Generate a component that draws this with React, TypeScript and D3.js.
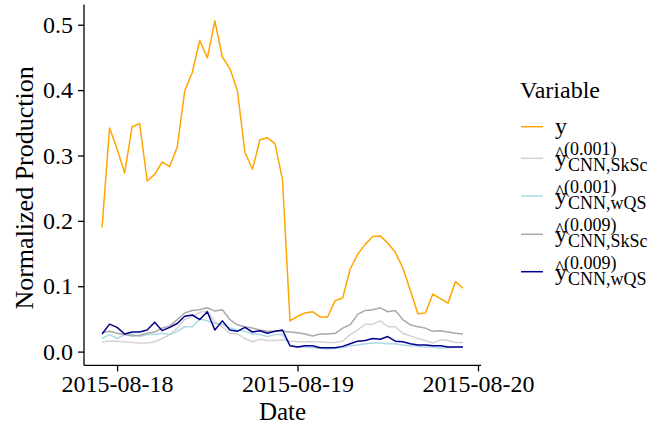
import React, { useRef, useEffect } from "react";
import * as d3 from "d3";

// hourly time stamps, 2015-08-17 22:00 to 2015-08-19 22:00
const hours = d3.utcHour.range(
  new Date(Date.UTC(2015, 7, 17, 22)),
  new Date(Date.UTC(2015, 7, 19, 23))
);

const yObs = [0.190, 0.342, 0.310, 0.273, 0.344, 0.349, 0.261, 0.271, 0.290, 0.283, 0.313, 0.399, 0.427, 0.476, 0.449, 0.506, 0.451, 0.433, 0.399, 0.305, 0.279, 0.324, 0.327, 0.318, 0.263, 0.047, 0.054, 0.059, 0.061, 0.053, 0.053, 0.078, 0.082, 0.126, 0.149, 0.164, 0.176, 0.177, 0.166, 0.152, 0.128, 0.094, 0.058, 0.059, 0.088, 0.081, 0.074, 0.107, 0.097];
const skSc001 = [0.015, 0.016, 0.016, 0.015, 0.014, 0.013, 0.013, 0.015, 0.020, 0.026, 0.036, 0.049, 0.054, 0.060, 0.062, 0.046, 0.038, 0.028, 0.027, 0.020, 0.015, 0.019, 0.017, 0.017, 0.018, 0.016, 0.015, 0.015, 0.015, 0.015, 0.014, 0.014, 0.016, 0.026, 0.033, 0.042, 0.042, 0.047, 0.038, 0.038, 0.028, 0.024, 0.020, 0.017, 0.013, 0.018, 0.017, 0.014, 0.014];
const wqs001 = [0.020, 0.026, 0.020, 0.026, 0.027, 0.023, 0.026, 0.026, 0.028, 0.026, 0.031, 0.038, 0.038, 0.050, 0.047, 0.043, 0.042, 0.036, 0.033, 0.031, 0.027, 0.026, 0.023, 0.026, 0.026, 0.009, 0.007, 0.007, 0.006, 0.005, 0.004, 0.005, 0.006, 0.009, 0.010, 0.012, 0.013, 0.013, 0.012, 0.012, 0.010, 0.009, 0.008, 0.007, 0.007, 0.005, 0.006, 0.007, 0.007];
const skSc009 = [0.029, 0.031, 0.028, 0.026, 0.024, 0.025, 0.028, 0.030, 0.036, 0.039, 0.049, 0.059, 0.063, 0.064, 0.067, 0.062, 0.064, 0.049, 0.041, 0.038, 0.036, 0.033, 0.031, 0.031, 0.031, 0.030, 0.029, 0.027, 0.024, 0.027, 0.027, 0.028, 0.036, 0.041, 0.057, 0.063, 0.064, 0.067, 0.061, 0.063, 0.049, 0.041, 0.038, 0.036, 0.031, 0.032, 0.030, 0.028, 0.027];
const wqs009 = [0.027, 0.042, 0.037, 0.027, 0.030, 0.030, 0.033, 0.045, 0.032, 0.037, 0.043, 0.054, 0.056, 0.049, 0.061, 0.033, 0.047, 0.033, 0.031, 0.037, 0.030, 0.032, 0.028, 0.031, 0.033, 0.009, 0.007, 0.009, 0.009, 0.006, 0.006, 0.006, 0.008, 0.012, 0.016, 0.017, 0.020, 0.019, 0.023, 0.016, 0.015, 0.012, 0.010, 0.010, 0.009, 0.009, 0.007, 0.007, 0.007];

const seriesNames = ["y", "skSc001", "wqs001", "skSc009", "wqs009"];
const seriesColors = ["#FFA500", "#D3D3D3", "#ADD8E6", "#A9A9A9", "#00008B"];
const legendSup = ["", "(0.001)", "(0.001)", "(0.009)", "(0.009)"];
const legendSub = ["", "CNN,SkSc", "CNN,wQS", "CNN,SkSc", "CNN,wQS"];
const xTickDates = ["2015-08-18", "2015-08-19", "2015-08-20"];
const yTicks = [0, 0.1, 0.2, 0.3, 0.4, 0.5];

const W = 665;
const H = 424;
const font = '"Liberation Serif", Tinos, "Times New Roman", "DejaVu Serif", serif';

const App = () => {
  const svgRef = useRef(null);

  useEffect(() => {
    const svg = d3.select(svgRef.current);
    svg.selectAll("*").remove();

    const allSeries = [yObs, skSc001, wqs001, skSc009, wqs009];
    const panel = { left: 84, right: 481, top: 4.4, bottom: 365.4 };

    // ggplot style 5% expansion
    const t0 = hours[0].getTime();
    const t1 = hours[hours.length - 1].getTime();
    const tPad = (t1 - t0) * 0.05;
    const xScale = d3
      .scaleUtc()
      .domain([new Date(t0 - tPad), new Date(t1 + tPad)])
      .range([panel.left, panel.right]);

    const all = allSeries.flat();
    const yMin = d3.min(all);
    const yMax = d3.max(all);
    const yPad = (yMax - yMin) * 0.05;
    const yScale = d3
      .scaleLinear()
      .domain([yMin - yPad, yMax + yPad])
      .range([panel.bottom, panel.top]);

    // lines
    const line = d3
      .line()
      .x((d, i) => xScale(hours[i]))
      .y((d) => yScale(d));

    allSeries.forEach((s, k) => {
      svg
        .append("path")
        .datum(s)
        .attr("fill", "none")
        .attr("stroke", seriesColors[k])
        .attr("stroke-width", 1.5)
        .attr("stroke-linejoin", "round")
        .attr("d", line);
    });

    // axes
    const xAxis = d3
      .axisBottom(xScale)
      .tickValues(xTickDates.map((d) => d3.utcParse("%Y-%m-%d")(d)))
      .tickFormat(d3.utcFormat("%Y-%m-%d"))
      .tickSizeInner(6)
      .tickSizeOuter(0)
      .tickPadding(4);

    const yAxis = d3
      .axisLeft(yScale)
      .tickValues(yTicks)
      .tickFormat(d3.format(".1f"))
      .tickSizeInner(6)
      .tickSizeOuter(0)
      .tickPadding(5);

    const gx = svg
      .append("g")
      .attr("transform", `translate(0,${panel.bottom})`)
      .call(xAxis);
    const gy = svg
      .append("g")
      .attr("transform", `translate(${panel.left},0)`)
      .call(yAxis);

    [gx, gy].forEach((g) => {
      g.attr("font-family", null).style("font-family", font);
      g.select(".domain").attr("stroke", "#000").attr("stroke-width", 1.3);
      g.selectAll(".tick line").attr("stroke", "#000").attr("stroke-width", 1.3);
      g.selectAll(".tick text")
        .attr("fill", "#000")
        .style("font-family", font)
        .attr("font-size", 24);
    });
    gx.select(".domain").attr("d", `M${panel.left},0H${panel.right}`);
    gy.select(".domain").attr("d", `M0,${panel.bottom}V${panel.top}`);

    // axis titles
    svg
      .append("text")
      .attr("x", (panel.left + panel.right) / 2)
      .attr("y", 420)
      .attr("text-anchor", "middle")
      .style("font-family", font)
      .attr("font-size", 25)
      .text("Date");

    svg
      .append("text")
      .attr("transform", `translate(33,${(panel.top + panel.bottom) / 2 + 3}) rotate(-90)`)
      .attr("text-anchor", "middle")
      .style("font-family", font)
      .attr("font-size", 26)
      .text("Normalized Production");

    // legend
    const lg = svg.append("g").style("font-family", font);
    lg.append("text")
      .attr("x", 520)
      .attr("y", 98)
      .attr("font-size", 24)
      .text("Variable");

    const rowY = [126.7, 158.3, 196, 234.3, 271.7];
    seriesNames.forEach((name, k) => {
      const cy = rowY[k];
      lg.append("line")
        .attr("x1", 521)
        .attr("x2", 543)
        .attr("y1", cy)
        .attr("y2", cy)
        .attr("stroke", seriesColors[k])
        .attr("stroke-width", 1.5);

      if (k === 0) {
        lg.append("text").attr("x", 555).attr("y", cy + 7).attr("font-size", 24).text("y");
        return;
      }
      lg.append("text").attr("x", 555).attr("y", cy + 8).attr("font-size", 24).text("y");
      lg.append("text").attr("x", 555).attr("y", cy + 3).attr("font-size", 20).text("^");
      lg.append("text").attr("x", 564).attr("y", cy - 3).attr("font-size", 18).text(legendSup[k]);
      lg.append("text").attr("x", 568).attr("y", cy + 13).attr("font-size", 18).text(legendSub[k]);
    });
  }, []);

  return (
    <svg
      ref={svgRef}
      width={W}
      height={H}
      style={{ position: "absolute", left: 0, top: 0, background: "#fff" }}
    />
  );
};

export default App;
